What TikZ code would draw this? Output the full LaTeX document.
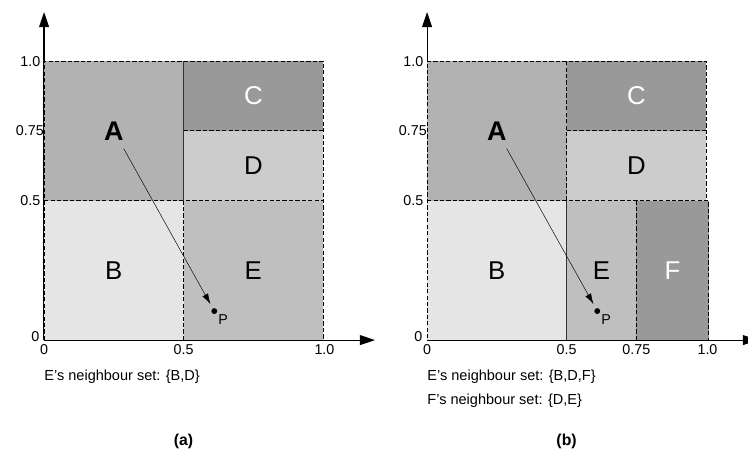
\documentclass[tikz,border=0pt]{standalone}
\usepackage{fontspec}
\setmainfont{Liberation Sans}
\usepackage{tikz}
\usetikzlibrary{arrows.meta}

\definecolor{cellA}{gray}{0.70}
\definecolor{cellB}{gray}{0.90}
\definecolor{cellC}{gray}{0.60}
\definecolor{cellD}{gray}{0.80}
\definecolor{cellE}{gray}{0.75}
\definecolor{cellF}{gray}{0.60}

\begin{document}
\begin{tikzpicture}[
    x = 8.37cm, % one unit of the square
    y = 8.37cm,
    > = {Latex[length=9pt, width=5.5pt]}, % arrow head style
    semithick % line style
]

\tikzstyle{border}=[
    draw = black,
    line width = 0.9pt,
    dash pattern = on 3.6pt off 1.9pt
]
\tikzstyle{solid border}=[draw = black!80, line width = 0.8pt]
\tikzstyle{axis}=[line width = 1pt, -{Triangle[length=13pt, width=8.5pt]}]
\tikzstyle{region}=[font = \fontsize{22}{26}\selectfont]
\tikzstyle{bold region}=[font = \fontsize{23}{27}\selectfont\bfseries]
\tikzstyle{tick}=[font = \fontsize{12.2}{15}\selectfont, inner sep = 1pt]
\tikzstyle{caption}=[font = \fontsize{12.4}{15}\selectfont, anchor = west, inner sep = 0pt]
\tikzstyle{point}=[circle, fill = black, inner sep = 0pt, minimum size = 5pt]

\useasboundingbox (-0.158, -0.423) rectangle (2.523, 1.219);

%%% (a)
\coordinate (O) at (0, 0);
\coordinate (x end) at (1.186, 0);
\coordinate (y end) at (0, 1.176);
\draw[axis] (O) -- (x end);
\draw[axis] (O) -- (y end);

\fill[cellA] (0, 0.5) rectangle (0.5, 1);
\fill[cellB] (0, 0) rectangle (0.5, 0.5);
\fill[cellC] (0.5, 0.75) rectangle (1, 1);
\fill[cellD] (0.5, 0.5) rectangle (1, 0.75);
\fill[cellE] (0.5, 0) rectangle (1, 0.5);

\draw[border] (0, 0) rectangle (1, 1);
\draw[border] (0, 0.5) -- (1, 0.5);
\draw[border] (0.5, 0.75) -- (1, 0.75);
\draw[border] (0.5, 0) -- (0.5, 0.5);
\draw[solid border] (0.5, 0.5) -- (0.5, 1);

\node[bold region] (A) at (0.25, 0.75) {A};
\node[region] (B) at (0.25, 0.25) {B};
\node[region, text = white] (C) at (0.75, 0.875) {C};
\node[region] (D) at (0.75, 0.625) {D};
\node[region] (E) at (0.75, 0.25) {E};

\node[point, label = {[tick, label distance = 0pt]-35:P}] (P) at (0.61, 0.104) {};
\path[->] (A) edge [shorten <= 4pt, shorten >= 4pt, thin] (P);

\node[tick, anchor = east] (y one) at (-0.008, 1) {1.0};
\node[tick, anchor = east, inner sep = 0pt] (y quarter) at (0, 0.75) {0.75};
\node[tick, anchor = east] (y half) at (-0.008, 0.5) {0.5};
\node[tick, anchor = east] (y zero) at (-0.012, 0.012) {0};
\node[tick, anchor = north] (x zero) at (0, -0.012) {0};
\node[tick, anchor = north] (x half) at (0.5, -0.012) {0.5};
\node[tick, anchor = north] (x one) at (1.005, -0.012) {1.0};

\node[caption] (E set) at (0, -0.133) {E's neighbour set: \{B,D\}};
\node[font = \fontsize{13.5}{16}\selectfont\bfseries] (label a) at (0.5, -0.362) {(a)};

%%% (b)
\begin{scope}[xshift = 11.49cm]
\coordinate (O b) at (0, 0);
\coordinate (x end b) at (1.186, 0);
\coordinate (y end b) at (0, 1.176);
\draw[axis] (O b) -- (x end b);
\draw[axis] (O b) -- (y end b);

\fill[cellA] (0, 0.5) rectangle (0.5, 1);
\fill[cellB] (0, 0) rectangle (0.5, 0.5);
\fill[cellC] (0.5, 0.75) rectangle (1, 1);
\fill[cellD] (0.5, 0.5) rectangle (1, 0.75);
\fill[cellE] (0.5, 0) rectangle (0.75, 0.5);
\fill[cellF] (0.75, 0) rectangle (1.01, 0.5);

\draw[border] (1.01, 0) -- (0, 0) -- (0, 1) -- (1, 1) -- (1, 0.5);
\draw[border] (0, 0.5) -- (1.01, 0.5) -- (1.01, 0);
\draw[border] (0.5, 0.75) -- (1, 0.75);
\draw[border] (0.5, 0.5) -- (0.5, 1);
\draw[border] (0.75, 0) -- (0.75, 0.5);
\draw[solid border] (0.5, 0) -- (0.5, 0.5);

\node[bold region] (A b) at (0.25, 0.75) {A};
\node[region] (B b) at (0.25, 0.25) {B};
\node[region, text = white] (C b) at (0.75, 0.875) {C};
\node[region] (D b) at (0.75, 0.625) {D};
\node[region] (E b) at (0.625, 0.25) {E};
\node[region, text = white] (F b) at (0.88, 0.25) {F};

\node[point, label = {[tick, label distance = 0pt]-35:P}] (P b) at (0.61, 0.104) {};
\path[->] (A b) edge [shorten <= 4pt, shorten >= 4pt, thin] (P b);

\node[tick, anchor = east] (y one b) at (-0.008, 1) {1.0};
\node[tick, anchor = east, inner sep = 0pt] (y quarter b) at (0, 0.75) {0.75};
\node[tick, anchor = east] (y half b) at (-0.008, 0.5) {0.5};
\node[tick, anchor = east] (y zero b) at (-0.012, 0.012) {0};
\node[tick, anchor = north] (x zero b) at (0, -0.012) {0};
\node[tick, anchor = north] (x half b) at (0.5, -0.012) {0.5};
\node[tick, anchor = north] (x quarter b) at (0.75, -0.012) {0.75};
\node[tick, anchor = north] (x one b) at (1.005, -0.012) {1.0};

\node[caption] (E set b) at (0, -0.133) {E's neighbour set: \{B,D,F\}};
\node[caption] (F set b) at (0, -0.219) {F's neighbour set: \{D,E\}};
\node[font = \fontsize{13.5}{16}\selectfont\bfseries] (label b) at (0.5, -0.362) {(b)};
\end{scope}

\end{tikzpicture}
\end{document}
